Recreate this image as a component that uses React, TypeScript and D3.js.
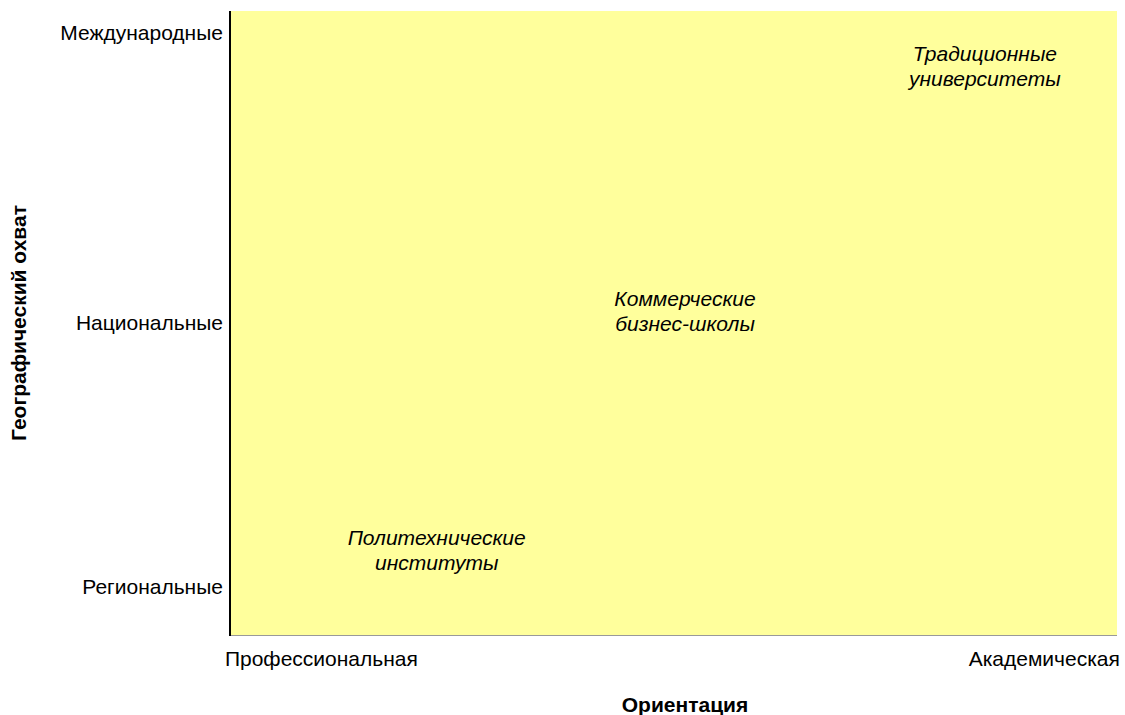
import { useEffect, useRef } from "react";
import * as d3 from "d3";

// axis categories (positions on a 0..10 scale)
const xLabels = ["Профессиональная", "Академическая"];
const xLabelValues = [1.03, 9.18];
const yLabels = ["Региональные", "Национальные", "Международные"];
const yLabelValues = [0.77, 5.0, 9.66];

// institution types
const typeNames = [
  ["Традиционные", "университеты"],
  ["Коммерческие", "бизнес-школы"],
  ["Политехнические", "институты"],
];
const typeX = [8.51, 5.13, 2.33];
const typeY = [9.12, 5.19, 1.36];

export default function App() {
  const ref = useRef<SVGSVGElement>(null);

  const W = 1125,
    H = 715;
  const margin = { top: 11, right: 8, bottom: 80, left: 230 };

  useEffect(() => {
    if (!ref.current) return;
    const svg = d3.select(ref.current);
    svg.selectAll("*").remove();

    const width = W - margin.left - margin.right;
    const height = H - margin.top - margin.bottom;

    const x = d3.scaleLinear().domain([0, 10]).range([0, width]);
    const y = d3.scaleLinear().domain([0, 10]).range([height, 0]);

    const font = "Arial, 'Liberation Sans', sans-serif";
    const fs = 21;

    const chart = svg
      .append("g")
      .attr("transform", `translate(${margin.left}, ${margin.top})`);

    chart
      .append("rect")
      .attr("x", 0)
      .attr("y", 0)
      .attr("width", width)
      .attr("height", height)
      .attr("fill", "#ffff9c");

    // bottom border (grey) and left axis (black)
    chart
      .append("line")
      .attr("x1", 0)
      .attr("x2", width)
      .attr("y1", height + 0.5)
      .attr("y2", height + 0.5)
      .attr("stroke", "#999")
      .attr("stroke-width", 1);
    chart
      .append("line")
      .attr("x1", 0)
      .attr("x2", 0)
      .attr("y1", 0)
      .attr("y2", height + 1)
      .attr("stroke", "#000")
      .attr("stroke-width", 2);

    // y labels
    chart
      .append("g")
      .selectAll("text")
      .data(yLabels)
      .enter()
      .append("text")
      .attr("x", -7)
      .attr("y", (d, i) => y(yLabelValues[i]))
      .attr("dy", "0.35em")
      .attr("text-anchor", "end")
      .attr("font-family", font)
      .attr("font-size", fs)
      .attr("fill", "#000")
      .text((d) => d);

    // x labels
    chart
      .append("g")
      .selectAll("text")
      .data(xLabels)
      .enter()
      .append("text")
      .attr("x", (d, i) => x(xLabelValues[i]))
      .attr("y", height + 24)
      .attr("dy", "0.35em")
      .attr("text-anchor", "middle")
      .attr("font-family", font)
      .attr("font-size", fs)
      .attr("fill", "#000")
      .text((d) => d);

    // institution labels
    const lbl = chart
      .append("g")
      .selectAll("text")
      .data(typeNames)
      .enter()
      .append("text")
      .attr("text-anchor", "middle")
      .attr("font-family", font)
      .attr("font-size", fs)
      .attr("font-style", "italic")
      .attr("fill", "#000")
      .attr("transform", (d, i) => `translate(${x(typeX[i])}, ${y(typeY[i])})`);
    lbl
      .selectAll("tspan")
      .data((d) => d)
      .enter()
      .append("tspan")
      .attr("x", 0)
      .attr("y", (d, j) => -5 + j * 25)
      .text((d) => d);

    // axis titles
    svg
      .append("text")
      .attr("x", margin.left + x(5.13))
      .attr("y", 712)
      .attr("text-anchor", "middle")
      .attr("font-family", font)
      .attr("font-size", fs)
      .attr("font-weight", "bold")
      .text("Ориентация");
    svg
      .append("text")
      .attr("transform", `translate(26, ${margin.top + y(5.0)}) rotate(-90)`)
      .attr("text-anchor", "middle")
      .attr("font-family", font)
      .attr("font-size", fs)
      .attr("font-weight", "bold")
      .text("Географический охват");
  }, []);

  return (
    <svg
      ref={ref}
      width={W}
      height={H}
      style={{ position: "absolute", left: 0, top: 0, background: "#fff" }}
    />
  );
}
